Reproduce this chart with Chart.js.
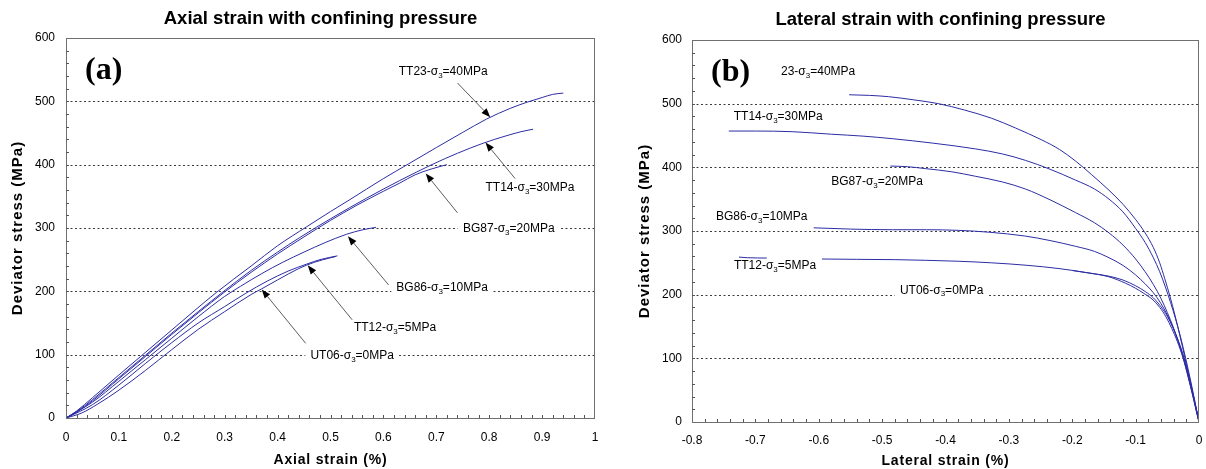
<!DOCTYPE html>
<html>
<head>
<meta charset="utf-8">
<script src="https://cdn.jsdelivr.net/npm/chart.js@4.4.1/dist/chart.umd.min.js"></script>
<style>
  body { margin: 0; background: #fff; }
  .panel { position: absolute; top: 0; height: 469px; }
</style>
</head>
<body>
<div class="panel" style="left:0;width:606px"><canvas id="axial" width="606" height="469"></canvas></div>
<div class="panel" style="left:606px;width:600px"><canvas id="lateral" width="600" height="469"></canvas></div>
<script>
// specimens and confining pressure (MPa)
const specimens   = ['UT06', 'TT12', 'BG86', 'BG87', 'TT14', 'TT23'];
const lateralTags = ['UT06', 'TT12', 'BG86', 'BG87', 'TT14', '23'];
const confining   = [0, 5, 10, 20, 30, 40];

// tick labels
const stressTicks  = [0, 100, 200, 300, 400, 500, 600];
const axialTicks   = [0, 0.1, 0.2, 0.3, 0.4, 0.5, 0.6, 0.7, 0.8, 0.9, 1];
const lateralTicks = [-0.8, -0.7, -0.6, -0.5, -0.4, -0.3, -0.2, -0.1, 0];

// (a) axial strain (%) vs deviator stress (MPa)
const axialUT06 = [[0,0],[0.03,8],[0.06,22],[0.1,44],[0.15,75],[0.2,108],[0.25,140],[0.3,168],[0.35,195],[0.37,204],[0.4,218],[0.44,236],[0.47,246],[0.5,253],[0.51,255]];
const axialTT12 = [[0,0],[0.05,21],[0.1,52],[0.15,86],[0.2,119],[0.25,150],[0.3,176],[0.34,197],[0.38,216],[0.42,232],[0.455,243],[0.48,250],[0.513,256]];
const axialBG86 = [[0,0],[0.05,25],[0.1,58],[0.15,92],[0.2,126],[0.25,160],[0.3,192],[0.33,208],[0.37,228],[0.41,246],[0.45,262],[0.49,277],[0.53,290],[0.56,297],[0.586,301]];
const axialBG87 = [[0,0],[0.02,9],[0.05,27],[0.1,62],[0.15,97],[0.2,132],[0.25,166],[0.3,199],[0.35,230],[0.4,259],[0.45,286],[0.5,312],[0.55,336],[0.6,358],[0.631,371],[0.66,384],[0.69,393],[0.72,400]];
const axialTT14 = [[0,0],[0.02,10],[0.05,29],[0.1,64],[0.15,99],[0.2,134],[0.25,168],[0.295,198],[0.35,233],[0.4,262],[0.442,285],[0.505,317],[0.568,347],[0.631,375],[0.694,401],[0.74,418],[0.789,434],[0.83,445],[0.86,452],[0.883,456]];
const axialTT23 = [[0,0],[0.02,11],[0.05,32],[0.1,68],[0.2,139],[0.284,198],[0.35,240],[0.4,272],[0.455,302],[0.5,326],[0.537,345],[0.6,378],[0.647,401],[0.7,427],[0.75,451],[0.795,472],[0.84,489],[0.873,499],[0.9,506],[0.92,511],[0.94,513]];

// (b) lateral strain (%) vs deviator stress (MPa)
const lateralUT06 = [[-0.595,256],[-0.54,255.5],[-0.48,255],[-0.432,254],[-0.38,252.5],[-0.327,250],[-0.27,246],[-0.221,241],[-0.18,235],[-0.142,228],[-0.116,218],[-0.1,210],[-0.087,202],[-0.074,193],[-0.062,180],[-0.052,165],[-0.043,147],[-0.034,126],[-0.025,100],[-0.017,70],[-0.01,42],[-0.004,16],[0,0]];
const lateralTT12 = [[-0.726,259],[-0.712,258],[-0.682,257.5],[-0.68,null],[-0.2,238],[-0.16,232],[-0.142,229],[-0.12,223],[-0.1,214],[-0.085,205],[-0.072,195],[-0.06,181],[-0.05,166],[-0.041,148],[-0.032,126],[-0.024,102],[-0.016,72],[-0.009,42],[-0.004,18],[0,0]];
const lateralBG86 = [[-0.608,305],[-0.55,303],[-0.484,302],[-0.43,302],[-0.379,301],[-0.33,298],[-0.274,292],[-0.235,285],[-0.195,276],[-0.165,268],[-0.142,258],[-0.12,246],[-0.1,231],[-0.085,217],[-0.072,203],[-0.06,186],[-0.05,168],[-0.04,146],[-0.031,122],[-0.022,93],[-0.014,62],[-0.007,32],[-0.002,10],[0,0]];
const lateralBG87 = [[-0.487,402],[-0.46,401],[-0.432,398],[-0.39,393],[-0.353,386],[-0.31,377],[-0.274,366],[-0.235,349],[-0.195,329],[-0.165,313],[-0.142,297],[-0.12,278],[-0.1,256],[-0.085,236],[-0.072,216],[-0.06,194],[-0.05,172],[-0.041,150],[-0.032,124],[-0.023,94],[-0.015,63],[-0.008,34],[-0.003,13],[0,0]];
const lateralTT14 = [[-0.742,457],[-0.7,457],[-0.642,456],[-0.58,452],[-0.53,449],[-0.484,445],[-0.42,438],[-0.353,429],[-0.31,421],[-0.274,411],[-0.235,397],[-0.195,380],[-0.165,366],[-0.142,350],[-0.12,330],[-0.1,304],[-0.085,282],[-0.072,258],[-0.062,236],[-0.053,212],[-0.045,188],[-0.037,162],[-0.029,133],[-0.021,100],[-0.013,64],[-0.006,30],[-0.002,10],[0,0]];
const lateralTT23 = [[-0.552,514],[-0.52,513],[-0.49,511],[-0.45,506],[-0.411,500],[-0.37,490],[-0.327,477],[-0.29,462],[-0.248,443],[-0.22,428],[-0.195,410],[-0.17,389],[-0.142,364],[-0.12,342],[-0.1,318],[-0.085,297],[-0.072,274],[-0.062,250],[-0.054,225],[-0.046,198],[-0.038,168],[-0.03,135],[-0.022,100],[-0.014,64],[-0.007,32],[-0.002,10],[0,0]];

// label anchors (strain, stress) for each specimen
const axialLabelAt   = [[0.541,98],[0.622,142],[0.711,205],[0.837,299],[0.877,363],[0.713,547]];
const axialArrowFrom = [[0.453,118],[0.541,155],[0.61,210],[0.74,324],[0.849,378],[0.74,529]];
const axialArrowTo   = [[0.37,203],[0.457,241],[0.533,287],[0.68,386],[0.793,435],[0.802,475]];
const lateralLabelAt = [[-0.406,207],[-0.669,245],[-0.69,322.5],[-0.508,377],[-0.664,479.5],[-0.601,550]];

const SANS  = "'Liberation Sans', Arial, sans-serif";
const SERIF = "'Liberation Serif', 'Times New Roman', serif";
const LINE  = '#2c2ca4';

Chart.defaults.font.family = SANS;
Chart.defaults.color = '#000';

const toPoints = pairs => pairs.map(p => ({ x: p[0], y: p[1] }));

function drawTag(ctx, cx, cy, tag, sigma) {
    const main = '12px ' + SANS, sub = '8px ' + SANS;
    const head = tag + '-σ', tail = '=' + sigma + 'MPa';
    ctx.font = main;
    const w1 = ctx.measureText(head).width, w3 = ctx.measureText(tail).width;
    ctx.font = sub;
    const w2 = ctx.measureText('3').width;
    const w = w1 + w2 + w3, x0 = cx - w / 2;
    ctx.fillStyle = '#fff';
    ctx.fillRect(x0 - 5, cy - 7, w + 10, 15);
    ctx.fillStyle = '#000';
    ctx.textAlign = 'left';
    ctx.textBaseline = 'middle';
    ctx.font = main; ctx.fillText(head, x0, cy);
    ctx.font = sub;  ctx.fillText('3', x0 + w1, cy + 4);
    ctx.font = main; ctx.fillText(tail, x0 + w1 + w2, cy);
}

function drawArrow(ctx, x1, y1, x2, y2) {
    const ang = Math.atan2(y2 - y1, x2 - x1), len = 9, half = 3.5;
    const bx = x2 - len * Math.cos(ang), by = y2 - len * Math.sin(ang);
    ctx.strokeStyle = '#333';
    ctx.lineWidth = 0.8;
    ctx.beginPath(); ctx.moveTo(x1, y1); ctx.lineTo(bx, by); ctx.stroke();
    ctx.fillStyle = '#000';
    ctx.beginPath();
    ctx.moveTo(x2, y2);
    ctx.lineTo(bx + half * Math.sin(ang), by - half * Math.cos(ang));
    ctx.lineTo(bx - half * Math.sin(ang), by + half * Math.cos(ang));
    ctx.closePath(); ctx.fill();
}

// gridlines, frame, inner minor ticks, titles, labels
function paperPlugin(cfg) {
    return {
        id: 'paper',
        beforeDatasetsDraw(chart) {
            const { ctx, chartArea: a, scales: { y } } = chart;
            ctx.save();
            ctx.strokeStyle = '#3a3a3a';
            ctx.lineWidth = 1;
            ctx.setLineDash([2, 2.5]);
            stressTicks.forEach(v => {
                if (v <= y.min || v >= y.max) return;
                const py = Math.round(y.getPixelForValue(v)) + 0.5;
                ctx.beginPath(); ctx.moveTo(a.left, py); ctx.lineTo(a.right, py); ctx.stroke();
            });
            ctx.restore();
        },
        afterDatasetsDraw(chart) {
            const { ctx, chartArea: a, scales: { x, y } } = chart;
            ctx.save();
            // frame
            ctx.strokeStyle = '#707070';
            ctx.lineWidth = 1;
            ctx.strokeRect(Math.round(a.left) + 0.5, Math.round(a.top) + 0.5,
                           Math.round(a.right - a.left) - 1, Math.round(a.bottom - a.top));
            // minor ticks pointing inwards
            ctx.strokeStyle = '#555';
            ctx.beginPath();
            const nx = Math.round((x.max - x.min) / 0.02);
            for (let i = 1; i < nx; i++) {
                const px = Math.round(x.getPixelForValue(x.min + i * 0.02)) + 0.5;
                ctx.moveTo(px, a.bottom); ctx.lineTo(px, a.bottom - 3);
            }
            const ny = Math.round((y.max - y.min) / 20);
            for (let i = 1; i < ny; i++) {
                const py = Math.round(y.getPixelForValue(y.min + i * 20)) + 0.5;
                ctx.moveTo(a.left, py); ctx.lineTo(a.left + 3, py);
            }
            ctx.stroke();

            // chart title
            ctx.fillStyle = '#000';
            ctx.font = 'bold 18.5px ' + SANS;
            ctx.textAlign = 'center';
            ctx.textBaseline = 'middle';
            ctx.fillText(cfg.title, (a.left + a.right) / 2 + cfg.titleShift, cfg.titleY);

            // axis titles (slightly letter-spaced like the original)
            ctx.letterSpacing = '0.8px';
            ctx.font = 'bold 14px ' + SANS;
            ctx.fillText(cfg.xTitle, (a.left + a.right) / 2, cfg.xTitleY);
            ctx.letterSpacing = '1px';
            ctx.font = 'bold 15px ' + SANS;
            ctx.save();
            ctx.translate(cfg.yTitleX, (a.top + a.bottom) / 2);
            ctx.rotate(-Math.PI / 2);
            ctx.fillText('Deviator stress (MPa)', 0, 0);
            ctx.restore();
            ctx.letterSpacing = '0px';

            // panel letter
            ctx.font = 'bold 32px ' + SERIF;
            ctx.textAlign = 'left';
            ctx.fillText(cfg.letter, a.left + 19, a.top + 33);

            // arrows then labels
            if (cfg.arrowFrom) {
                cfg.arrowFrom.forEach((f, i) => {
                    const t = cfg.arrowTo[i];
                    drawArrow(ctx, x.getPixelForValue(f[0]), y.getPixelForValue(f[1]),
                                   x.getPixelForValue(t[0]), y.getPixelForValue(t[1]));
                });
            }
            cfg.labelAt.forEach((p, i) => {
                drawTag(ctx, x.getPixelForValue(p[0]), y.getPixelForValue(p[1]), cfg.tags[i], confining[i]);
            });
            ctx.restore();
        }
    };
}

function makeChart(id, curves, xTicks, cfg) {
    return new Chart(document.getElementById(id), {
        type: 'line',
        data: {
            datasets: curves.map((c, i) => ({
                label: specimens[i],
                data: toPoints(c),
                borderColor: LINE,
                borderWidth: 1,
                pointRadius: 0,
                fill: false,
                spanGaps: false,
                cubicInterpolationMode: 'monotone'
            }))
        },
        options: {
            responsive: false,
            animation: false,
            devicePixelRatio: 1,
            layout: { padding: cfg.padding },
            plugins: {
                legend: { display: false },
                title: { display: false },
                tooltip: { enabled: false }
            },
            scales: {
                x: {
                    type: 'linear',
                    min: xTicks[0],
                    max: xTicks[xTicks.length - 1],
                    grid: { display: false, drawTicks: false },
                    border: { display: false },
                    afterBuildTicks: s => { s.ticks = xTicks.map(v => ({ value: v })); },
                    afterFit: s => { s.height = cfg.xHeight; s.paddingLeft = 0; s.paddingRight = 0; },
                    ticks: { autoSkip: false, maxRotation: 0, padding: cfg.xPad, font: { size: 12 }, color: '#000', callback: v => String(v) }
                },
                y: {
                    type: 'linear',
                    min: stressTicks[0],
                    max: stressTicks[stressTicks.length - 1],
                    grid: { display: false, drawTicks: false },
                    border: { display: false },
                    afterBuildTicks: s => { s.ticks = stressTicks.map(v => ({ value: v })); },
                    afterFit: s => { s.width = cfg.yWidth; s.paddingTop = 0; s.paddingBottom = 0; },
                    ticks: { padding: cfg.yPad, font: { size: 12 }, color: '#000', callback: v => String(v) }
                }
            }
        },
        plugins: [paperPlugin(cfg)]
    });
}

makeChart('axial',
    [axialUT06, axialTT12, axialBG86, axialBG87, axialTT14, axialTT23],
    axialTicks,
    {
        title: 'Axial strain with confining pressure', titleShift: -10, titleY: 19, letter: '(a)',
        xTitle: 'Axial strain (%)', xTitleY: 460, yTitleX: 18,
        padding: { top: 38, right: 11, bottom: 0, left: 0 },
        xHeight: 51, yWidth: 66, xPad: 12, yPad: 11,
        tags: specimens, labelAt: axialLabelAt, arrowFrom: axialArrowFrom, arrowTo: axialArrowTo
    });

makeChart('lateral',
    [lateralUT06, lateralTT12, lateralBG86, lateralBG87, lateralTT14, lateralTT23],
    lateralTicks,
    {
        title: 'Lateral strain with confining pressure', titleShift: -5, titleY: 20, letter: '(b)',
        xTitle: 'Lateral strain (%)', xTitleY: 461, yTitleX: 39,
        padding: { top: 40, right: 7, bottom: 0, left: 0 },
        xHeight: 47, yWidth: 86, xPad: 11, yPad: 10,
        tags: lateralTags, labelAt: lateralLabelAt
    });
</script>
</body>
</html>
